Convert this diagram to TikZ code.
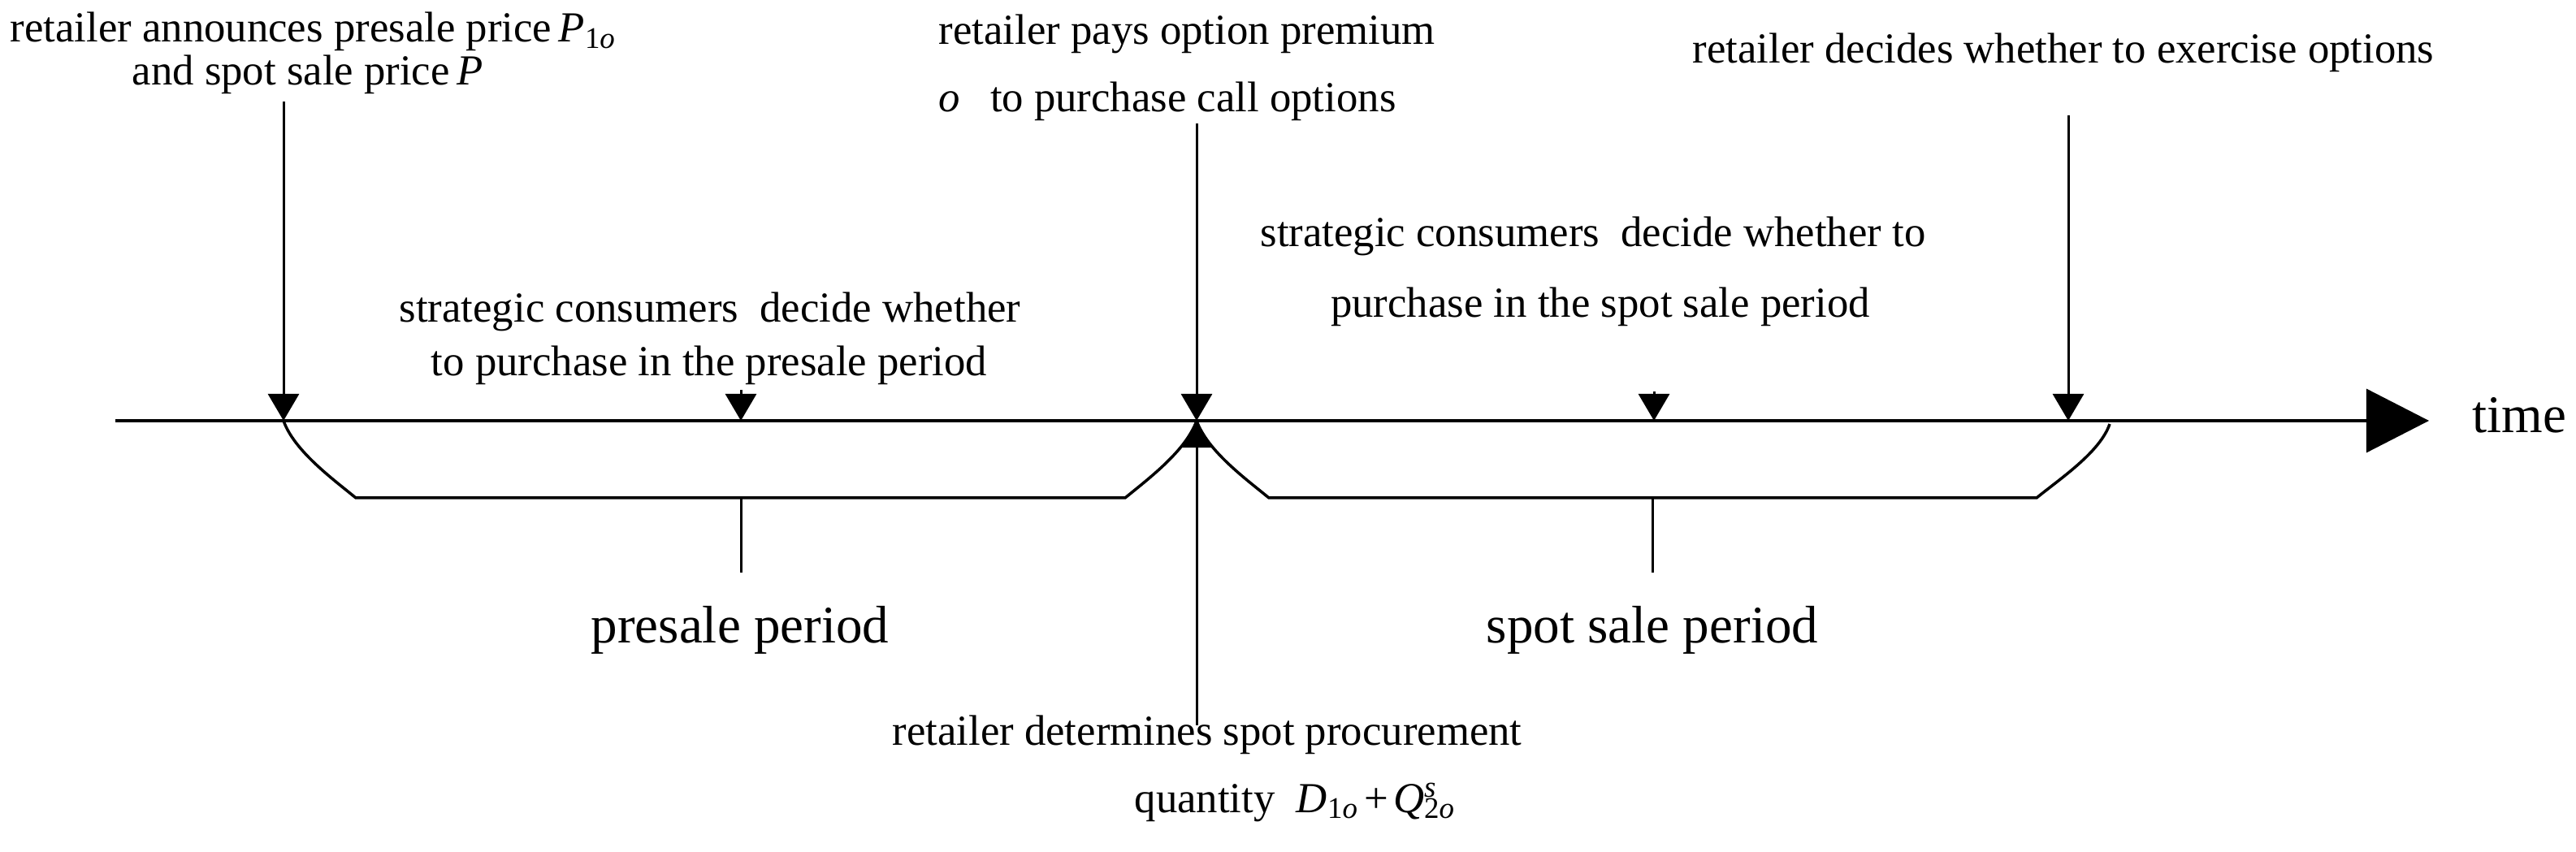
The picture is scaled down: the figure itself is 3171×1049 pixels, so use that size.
\documentclass[tikz,border=0pt]{standalone}
\usepackage{fontspec}
\setmainfont{Liberation Serif}
\usetikzlibrary{arrows.meta}
\begin{document}
\begin{tikzpicture}[x=0.01cm,y=-0.01cm,
  lbl/.style={font=\fontsize{15}{18}\selectfont, inner sep=0, anchor=base},
  lblw/.style={lbl, anchor=base west},
  big/.style={font=\fontsize{18.5}{22}\selectfont, inner sep=0, anchor=base},
  ln/.style={line width=0.03cm},
  ev/.style={ln, -{Triangle[length=0.33cm,width=0.38cm]}},
  brk/.style={line width=0.035cm, line join=miter},
]
\useasboundingbox (0,0) rectangle (3171,1049);
% axis
\coordinate (axL) at (142,518);
\coordinate (axR) at (2990,518);
\draw[line width=0.035cm, -{Triangle[length=0.77cm,width=0.78cm]}] (axL) -- (axR);
\node[big, anchor=base west] (time) at (3043,533) {time};
% event points on axis
\coordinate (e1) at (349,518);
\coordinate (e2) at (912,518);
\coordinate (e3) at (1473,518);
\coordinate (e4) at (2036,518);
\coordinate (e5) at (2546,518);
% arrow starts
\coordinate (s1) at (349,125);
\coordinate (s2) at (912,480);
\coordinate (s3) at (1473,152);
\coordinate (s4) at (2036,482);
\coordinate (s5) at (2546,142);
\coordinate (b3) at (1473,893);
\draw[ev] (s1) -- (e1);
\draw[ev] (s2) -- (e2);
\draw[ev] (s3) -- (e3);
\draw[ev] (s4) -- (e4);
\draw[ev] (s5) -- (e5);
\draw[ev] (b3) -- (e3);
% brackets
\draw[brk] (e1) .. controls (362,555) and (410,590) .. (438,613) -- (1385,613)
  .. controls (1413,590) and (1460,555) .. (e3);
\draw[brk] (e3) .. controls (1486,555) and (1534,590) .. (1562,613) -- (2507,613)
  .. controls (2535,590) and (2585,557) .. (2597,522);
\coordinate (k1) at (912,613);
\coordinate (k1b) at (912,705);
\coordinate (k2) at (2034,613);
\coordinate (k2b) at (2034,705);
\draw[ln] (k1) -- (k1b);
\draw[ln] (k2) -- (k2b);
\node[big] (pp) at (911,792) {presale period};
\node[big] (sp) at (2034,792) {spot sale period};
% labels
\node[lblw] (l1a) at (12,52) {retailer announces presale price\,\textit{P}\textsubscript{1\textit{o}}};
\node[lblw] (l1b) at (162,105) {and spot sale price\,\textit{P}};
\node[lblw] (l2a) at (1155,55) {retailer pays option premium};
\node[lblw] (l2b) at (1155,138) {\textit{o}\hspace{0.7em}to purchase call options};
\node[lbl] (l3) at (2540,78) {retailer decides whether to exercise options};
\node[lbl] (l4a) at (874,397) {strategic consumers\hspace{0.25em} decide whether};
\node[lbl] (l4b) at (873,463) {to purchase in the presale period};
\node[lbl] (l5a) at (1961,304) {strategic consumers\hspace{0.25em} decide whether to};
\node[lbl] (l5b) at (1970,391) {purchase in the spot sale period};
\node[lbl] (l6a) at (1486,917) {retailer determines spot procurement};
\node[lblw] (l6b) at (1396,1000) {quantity\hspace{0.5em}\textit{D}\textsubscript{1\textit{o}}\hspace{0.12em}+\hspace{0.12em}\textit{Q}\rlap{\textsuperscript{\textit{s}}}\textsubscript{2\textit{o}}};
\end{tikzpicture}
\end{document}
